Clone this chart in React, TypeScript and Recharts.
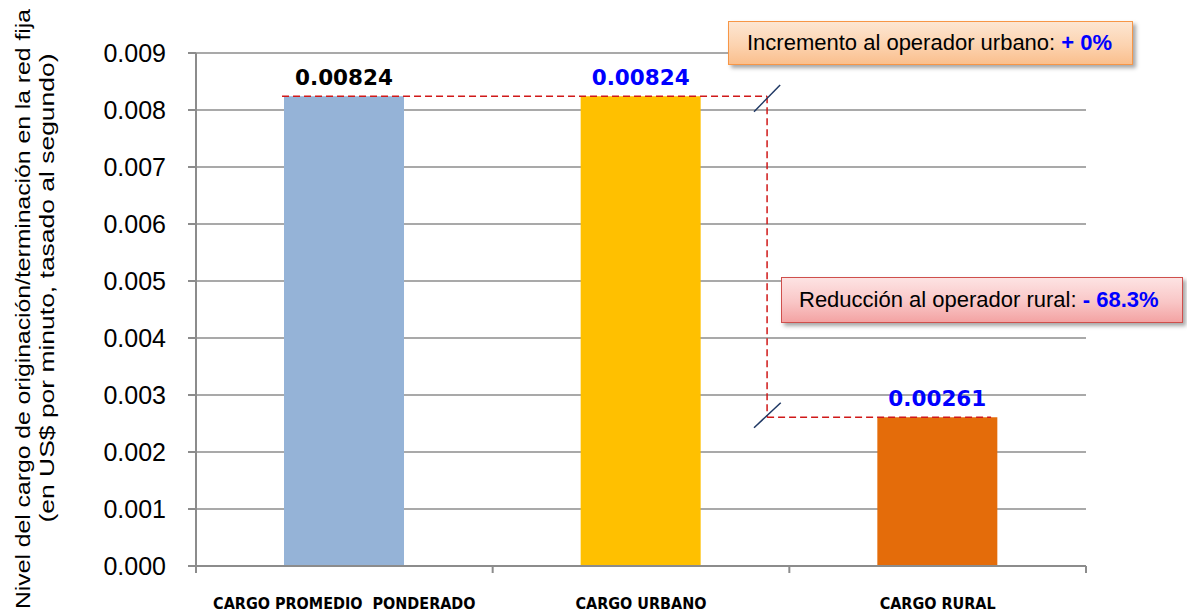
import React from 'react';
import { BarChart, Bar, XAxis, YAxis, CartesianGrid, Cell, LabelList, ReferenceLine } from 'recharts';

const categories = ['CARGO PROMEDIO  PONDERADO', 'CARGO URBANO', 'CARGO RURAL'];
const values = [0.00824, 0.00824, 0.00261];
const barColors = ['#95b3d7', '#ffc000', '#e46c0a'];
const labelColors = ['#000000', '#0000ff', '#0000ff'];
const yTicks = [0, 0.001, 0.002, 0.003, 0.004, 0.005, 0.006, 0.007, 0.008, 0.009];
const xTicks = [0, 0.5, 1, 1.5, 2, 2.5, 3];
const yTitleLines = ['Nivel del cargo de originación/terminación en la red fija', '(en US$ por minuto, tasado al segundo)'];

// annotation connector (data space)
const connectorX = 1.925;
const dashStartX = 0.29;
const dashEndX = 2.68;
const breakMarks = [
  [{ x: 1.881, y: 0.00797 }, { x: 1.969, y: 0.00844 }],
  [{ x: 1.881, y: 0.002426 }, { x: 1.971, y: 0.002865 }],
];

const data = categories.map((name, i) => ({ name, pos: i + 0.5, value: values[i] }));

const GRAY = '#8c8c8c';
const RED = '#d01818';

const XTick = (props: any) => {
  const { x, y, payload } = props;
  const v = payload.value as number;
  if (Number.isInteger(v)) {
    return <line x1={x} x2={x} y1={y} y2={y + 7} stroke={GRAY} strokeWidth={2} />;
  }
  const idx = Math.floor(v);
  return (
    <text
      x={x}
      y={y + 43}
      textAnchor="middle"
      fontFamily="'DejaVu Sans Condensed', 'Liberation Sans Narrow', sans-serif"
      fontWeight="bold"
      fontSize={16}
      fill="#000"
      style={{ whiteSpace: 'pre' }}
    >
      {categories[idx]}
    </text>
  );
};

const renderValueLabel = (props: any) => {
  const { x, y, width, value, index } = props;
  return (
    <text
      x={x + width / 2}
      y={y - 11}
      textAnchor="middle"
      fontFamily="'DejaVu Sans', sans-serif"
      fontWeight="bold"
      fontSize={21.5}
      fill={labelColors[index]}
    >
      {Number(value).toFixed(5)}
    </text>
  );
};

const YTitle = () => (
  <g fontFamily="'Liberation Sans', Arial, sans-serif" fontSize={20} fill="#000">
    <text transform="translate(29.5,309) rotate(-90)" textAnchor="middle" textLength={600} lengthAdjust="spacingAndGlyphs">
      {yTitleLines[0]}
    </text>
    <text transform="translate(53.5,288) rotate(-90)" textAnchor="middle" textLength={469} lengthAdjust="spacingAndGlyphs">
      {yTitleLines[1]}
    </text>
  </g>
);

const boxBase: React.CSSProperties = {
  position: 'absolute',
  boxSizing: 'border-box',
  display: 'flex',
  alignItems: 'center',
  fontFamily: "'Liberation Sans', Arial, sans-serif",
  fontSize: 22,
  color: '#000',
  whiteSpace: 'nowrap',
  boxShadow: '3px 3px 4px rgba(0,0,0,0.35)',
};

export default function App() {
  return (
    <div style={{ position: 'absolute', left: 0, top: 0, width: 1187, height: 615, background: '#fff', overflow: 'hidden' }}>
      <BarChart width={1187} height={615} data={data} margin={{ top: 53, right: 101, bottom: 0, left: 0 }}>
        <CartesianGrid vertical={false} stroke={GRAY} strokeWidth={1.5} />
        <XAxis
          type="number"
          dataKey="pos"
          domain={[0, 3]}
          ticks={xTicks}
          interval={0}
          height={49}
          tickLine={false}
          tickSize={0}
          tickMargin={0}
          axisLine={{ stroke: GRAY, strokeWidth: 2 }}
          tick={<XTick />}
          allowDataOverflow
        />
        <YAxis
          type="number"
          domain={[0, 0.009]}
          ticks={yTicks}
          interval={0}
          width={196}
          tickFormatter={(v: number) => v.toFixed(3)}
          tick={{ fontFamily: "'Liberation Sans', Arial, sans-serif", fontSize: 25, fill: '#000' }}
          tickSize={8}
          tickMargin={22}
          tickLine={{ stroke: GRAY, strokeWidth: 2 }}
          axisLine={{ stroke: GRAY, strokeWidth: 2 }}
          allowDataOverflow
        />
        <Bar dataKey="value" barSize={120} isAnimationActive={false}>
          {data.map((d, i) => (
            <Cell key={d.name} fill={barColors[i]} />
          ))}
          <LabelList dataKey="value" content={renderValueLabel} />
        </Bar>
        <ReferenceLine
          segment={[{ x: dashStartX, y: values[0] }, { x: connectorX, y: values[1] }]}
          stroke={RED}
          strokeWidth={1.5}
          strokeDasharray="7 4"
        />
        <ReferenceLine
          segment={[{ x: connectorX, y: values[1] }, { x: connectorX, y: values[2] }]}
          stroke={RED}
          strokeWidth={1.5}
          strokeDasharray="7 4"
        />
        <ReferenceLine
          segment={[{ x: connectorX, y: values[2] }, { x: dashEndX, y: values[2] }]}
          stroke={RED}
          strokeWidth={1.5}
          strokeDasharray="7 4"
        />
        {breakMarks.map((seg, i) => (
          <ReferenceLine key={i} segment={seg} stroke="#1f3864" strokeWidth={1.5} />
        ))}
        <YTitle />
      </BarChart>
      <div
        style={{
          ...boxBase,
          left: 728,
          top: 21,
          width: 405,
          height: 44,
          paddingLeft: 18,
          border: '1.5px solid #f79646',
          background: 'linear-gradient(to bottom, #fde6d2 0%, #fcd3b0 55%, #fabf8d 100%)',
        }}
      >
        <span>Incremento al operador urbano:&nbsp;</span>
        <span style={{ color: '#0000ff', fontWeight: 'bold' }}>+ 0%</span>
      </div>
      <div
        style={{
          ...boxBase,
          left: 781,
          top: 277,
          width: 402,
          height: 46,
          paddingLeft: 17,
          border: '1.5px solid #cf4f4c',
          background: 'linear-gradient(to bottom, #fde3e3 0%, #f9c6c6 55%, #f3a3a3 100%)',
        }}
      >
        <span>Reducción al operador rural:&nbsp;</span>
        <span style={{ color: '#0000ff', fontWeight: 'bold' }}>- 68.3%</span>
      </div>
    </div>
  );
}
